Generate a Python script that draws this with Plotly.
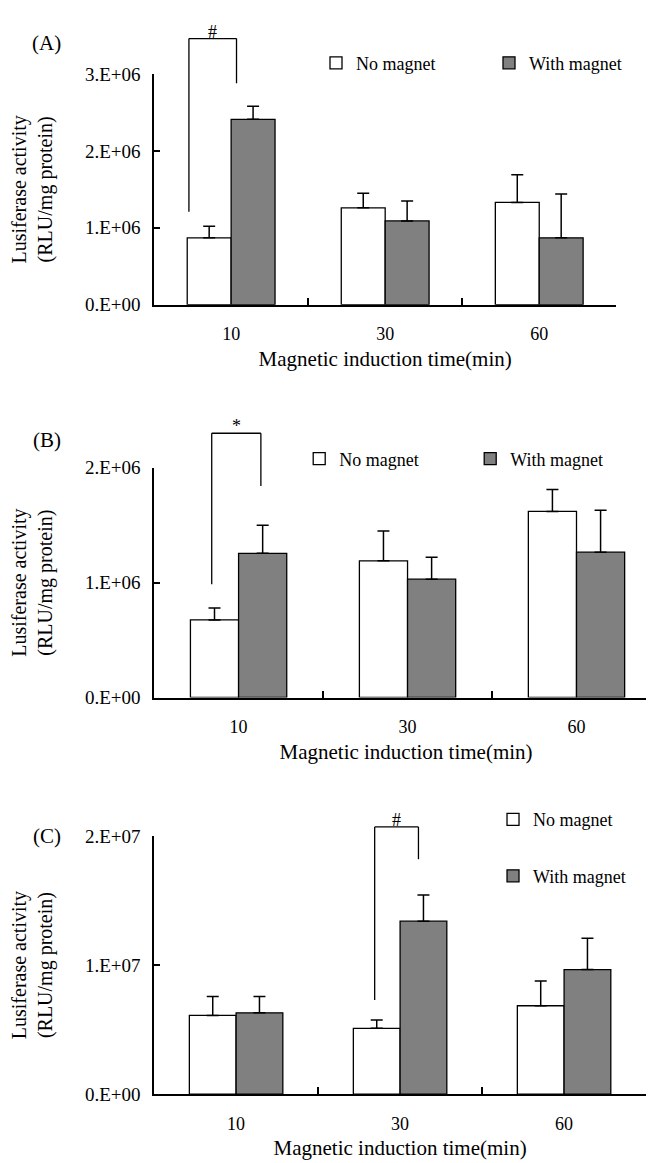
import plotly.graph_objects as go

# ---------------- data ----------------
categories = ["10", "30", "60"]

a_no = [0.87e6, 1.26e6, 1.33e6]
a_no_err = [0.15e6, 0.19e6, 0.36e6]
a_with = [2.41e6, 1.09e6, 0.87e6]
a_with_err = [0.17e6, 0.26e6, 0.57e6]

b_no = [0.675e6, 1.19e6, 1.62e6]
b_no_err = [0.105e6, 0.26e6, 0.19e6]
b_with = [1.255e6, 1.03e6, 1.265e6]
b_with_err = [0.245e6, 0.19e6, 0.365e6]

c_no = [6.1e6, 5.1e6, 6.85e6]
c_no_err = [1.47e6, 0.64e6, 1.91e6]
c_with = [6.3e6, 13.4e6, 9.65e6]
c_with_err = [1.26e6, 2.03e6, 2.42e6]

a_tickvals = [0, 1e6, 2e6, 3e6]
a_ticktext = ["0.E+00", "1.E+06", "2.E+06", "3.E+06"]
b_tickvals = [0, 1e6, 2e6]
b_ticktext = ["0.E+00", "1.E+06", "2.E+06"]
c_tickvals = [0, 1e7, 2e7]
c_ticktext = ["0.E+00", "1.E+07", "2.E+07"]

series_names = ["No magnet", "With magnet"]
panel_labels = ["(A)", "(B)", "(C)"]
x_title = "Magnetic induction time(min)"
y_title = "Lusiferase activity<br>(RLU/mg protein)"

# ---------------- layout helpers ----------------
W, H = 654, 1163
FONT = "Liberation Serif"


def xd(px):
    return px / W


def yd(px):
    return 1 - px / H


fig = go.Figure()

panels = [
    dict(no=a_no, no_err=a_no_err, wi=a_with, wi_err=a_with_err,
         tv=a_tickvals, tt=a_ticktext, ymax=3e6,
         xdom=[xd(147), xd(612)], xrange=[-0.5, 2.5],
         ydom=[yd(292), yd(57)],
         bracket=dict(x0=-0.274, x1=0.035, yl=1.21e6, yr=2.88e6, top=3.46e6, sym="#"),
         label_y=25, legend=dict(x=xd(310), y=yd(46), orientation="h", ew=128)),
    dict(no=b_no, no_err=b_no_err, wi=b_with, wi_err=b_with_err,
         tv=b_tickvals, tt=b_ticktext, ymax=2e6,
         xdom=[xd(147), 1.0], xrange=[-0.5, -0.5 + (654 - 147) / 170],
         ydom=[yd(692), yd(458)],
         bracket=dict(x0=-0.159, x1=0.132, yl=0.985e6, yr=1.84e6, top=2.30e6, sym="*"),
         label_y=430, legend=dict(x=xd(293), y=yd(449), orientation="h", ew=126)),
    dict(no=c_no, no_err=c_no_err, wi=c_with, wi_err=c_with_err,
         tv=c_tickvals, tt=c_ticktext, ymax=2e7,
         xdom=[xd(147), xd(642)], xrange=[-0.5, 2.5],
         ydom=[yd(1096), yd(833)],
         bracket=dict(x0=0.845, x1=1.112, yl=0.73e7, yr=1.82e7, top=2.07e7, sym="#"),
         label_y=833, legend=dict(x=xd(488), y=yd(845), orientation="v", ew=0)),
]

legend_keys = ["legend", "legend2", "legend3"]
layout_updates = {}
shapes = []
annotations = []

for i, p in enumerate(panels):
    n = "" if i == 0 else str(i + 1)
    xa, ya = "x" + n, "y" + n
    lg = legend_keys[i]
    fig.add_trace(go.Bar(
        x=categories, y=p["no"], name=series_names[0], xaxis=xa, yaxis=ya,
        marker=dict(color="white", line=dict(color="black", width=1.3)),
        error_y=dict(type="data", array=p["no_err"], arrayminus=[0, 0, 0], symmetric=False,
                     color="black", thickness=1.5, width=6),
        legend=lg, legendgroup=f"{i}a",
    ))
    fig.add_trace(go.Bar(
        x=categories, y=p["wi"], name=series_names[1], xaxis=xa, yaxis=ya,
        marker=dict(color="#808080", line=dict(color="black", width=1.3)),
        error_y=dict(type="data", array=p["wi_err"], arrayminus=[0, 0, 0], symmetric=False,
                     color="black", thickness=1.5, width=6),
        legend=lg, legendgroup=f"{i}b",
    ))

    layout_updates["xaxis" + n] = dict(
        domain=p["xdom"], anchor=ya, type="category", range=p["xrange"],
        categoryorder="array", categoryarray=categories,
        showline=True, linecolor="black", linewidth=1.5,
        ticks="inside", ticklen=7, tickwidth=1.5, tickcolor="black",
        tickson="boundaries", showgrid=False, zeroline=False,
        tickfont=dict(family=FONT, size=18, color="black"),
        ticklabelstandoff=12,
        title=dict(text=x_title, font=dict(family=FONT, size=21, color="black"), standoff=8),
    )
    layout_updates["yaxis" + n] = dict(
        domain=p["ydom"], anchor=xa, range=[0, p["ymax"]],
        showline=True, linecolor="black", linewidth=1.5,
        ticks="inside", ticklen=6, tickwidth=1.5, tickcolor="black",
        tickvals=p["tv"], ticktext=p["tt"], showgrid=False, zeroline=False,
        tickfont=dict(family=FONT, size=19, color="black"),
        ticklabelstandoff=8,
        title=dict(text=y_title, font=dict(family=FONT, size=20, color="black"), standoff=28),
    )

    lgd = p["legend"]
    layout_updates[lg] = dict(
        x=lgd["x"], y=lgd["y"], xanchor="left", yanchor="middle",
        orientation=lgd["orientation"], bgcolor="rgba(0,0,0,0)",
        font=dict(family=FONT, size=18, color="black"),
        entrywidth=lgd["ew"], entrywidthmode="pixels",
        tracegroupgap=30 if lgd["orientation"] == "v" else 0,
        itemclick=False, itemdoubleclick=False,
    )

    # significance bracket (relative to the y axis range)
    b = p["bracket"]
    ydomref = ya + " domain"
    ym = p["ymax"]
    line = dict(color="black", width=1.3)
    shapes.append(dict(type="line", xref=xa, yref=ydomref, x0=b["x0"], x1=b["x0"],
                       y0=b["yl"] / ym, y1=b["top"] / ym, line=line))
    shapes.append(dict(type="line", xref=xa, yref=ydomref, x0=b["x1"], x1=b["x1"],
                       y0=b["yr"] / ym, y1=b["top"] / ym, line=line))
    shapes.append(dict(type="line", xref=xa, yref=ydomref, x0=b["x0"], x1=b["x1"],
                       y0=b["top"] / ym, y1=b["top"] / ym, line=line))
    annotations.append(dict(xref=xa, yref=ydomref, x=(b["x0"] + b["x1"]) / 2, y=b["top"] / ym,
                            text=b["sym"], showarrow=False, yanchor="bottom", yshift=-5,
                            font=dict(family=FONT, size=18, color="black")))
    annotations.append(dict(xref="paper", yref="paper", x=xd(39), y=yd(p["label_y"]),
                            text=panel_labels[i], showarrow=False, xanchor="center",
                            yanchor="middle", font=dict(family=FONT, size=21, color="black")))

fig.update_layout(
    width=W, height=H,
    margin=dict(l=0, r=0, t=0, b=0),
    paper_bgcolor="white", plot_bgcolor="white",
    barmode="group", bargap=0.43, bargroupgap=0,
    font=dict(family=FONT, color="black"),
    shapes=shapes, annotations=annotations,
    **layout_updates,
)

fig.write_html("out.html")
